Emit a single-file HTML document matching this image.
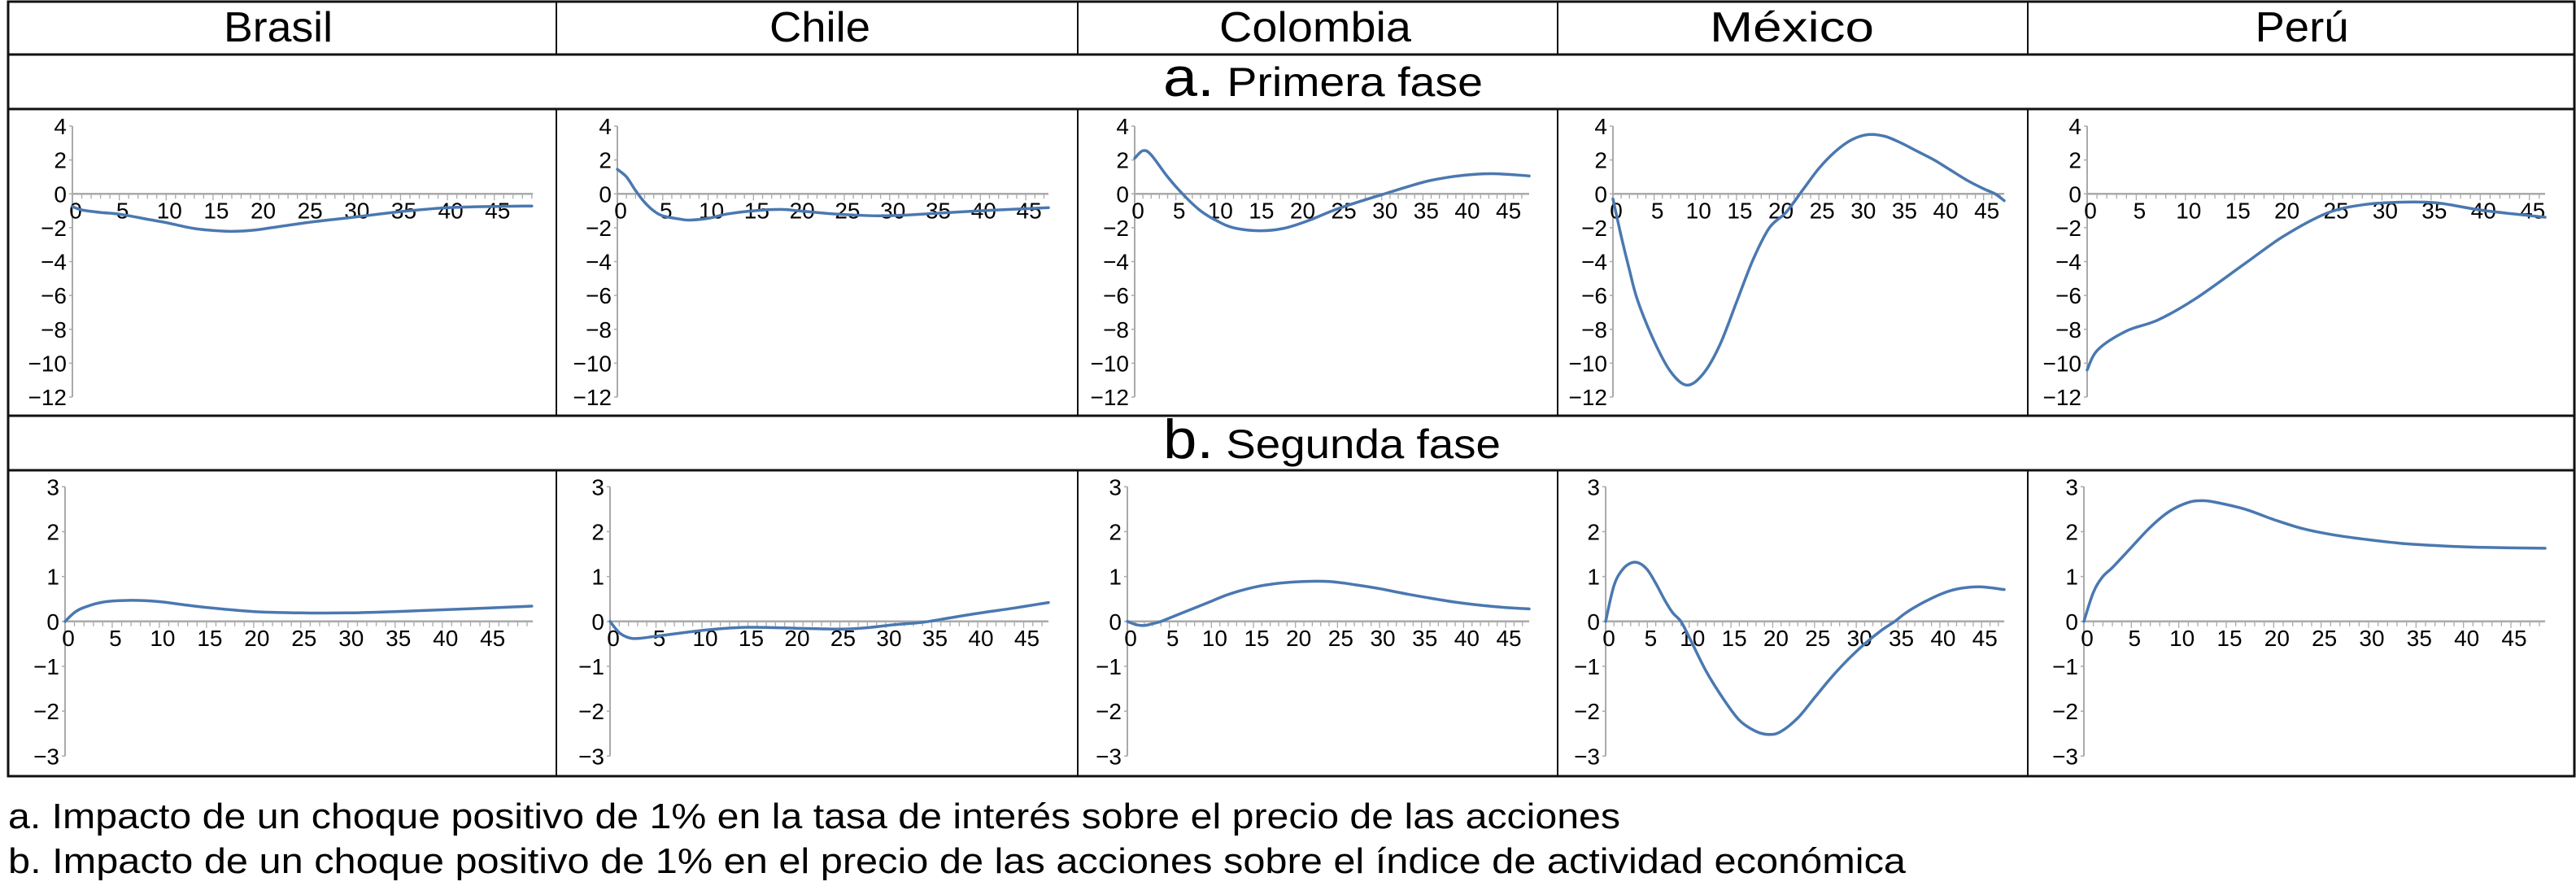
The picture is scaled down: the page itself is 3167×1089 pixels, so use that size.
<!DOCTYPE html>
<html><head><meta charset="utf-8">
<style>
html,body{margin:0;padding:0;background:#fff;}
svg{display:block;font-family:"Liberation Sans",Arial,sans-serif;}
</style></head>
<body>
<svg id="fig" width="3167" height="1089" viewBox="0 0 3167 1089" xmlns="http://www.w3.org/2000/svg">
  <g stroke="#111" fill="none">
    <rect x="10" y="2" width="3155" height="952" stroke-width="3"/>
    <line x1="10" y1="67" x2="3165" y2="67" stroke-width="3"/>
    <line x1="10" y1="134" x2="3165" y2="134" stroke-width="3"/>
    <line x1="10" y1="511" x2="3165" y2="511" stroke-width="3"/>
    <line x1="10" y1="578" x2="3165" y2="578" stroke-width="3"/>
    <g stroke-width="2">
      <line x1="684" y1="2" x2="684" y2="67"/><line x1="1325" y1="2" x2="1325" y2="67"/>
      <line x1="1915" y1="2" x2="1915" y2="67"/><line x1="2493" y1="2" x2="2493" y2="67"/>
      <line x1="684" y1="134" x2="684" y2="511"/><line x1="1325" y1="134" x2="1325" y2="511"/>
      <line x1="1915" y1="134" x2="1915" y2="511"/><line x1="2493" y1="134" x2="2493" y2="511"/>
      <line x1="684" y1="578" x2="684" y2="954"/><line x1="1325" y1="578" x2="1325" y2="954"/>
      <line x1="1915" y1="578" x2="1915" y2="954"/><line x1="2493" y1="578" x2="2493" y2="954"/>
    </g>
  </g>
  <g font-size="52" fill="#000" text-anchor="middle">
    <text x="342" y="51" textLength="134" lengthAdjust="spacingAndGlyphs">Brasil</text>
    <text x="1008" y="51" textLength="124" lengthAdjust="spacingAndGlyphs">Chile</text>
    <text x="1617" y="51" textLength="236" lengthAdjust="spacingAndGlyphs">Colombia</text>
    <text x="2203" y="51" textLength="202" lengthAdjust="spacingAndGlyphs">México</text>
    <text x="2830" y="51" textLength="115" lengthAdjust="spacingAndGlyphs">Perú</text>
  </g>
  <text x="1430" y="118" font-size="50" textLength="393" lengthAdjust="spacingAndGlyphs"><tspan font-size="68">a.</tspan> Primera fase</text>
  <text x="1430" y="563" font-size="50" textLength="415" lengthAdjust="spacingAndGlyphs"><tspan font-size="68">b.</tspan> Segunda fase</text>
  <text x="10" y="1018" font-size="44" textLength="1982" lengthAdjust="spacingAndGlyphs">a. Impacto de un choque positivo de 1% en la tasa de interés sobre el precio de las acciones</text>
  <text x="10" y="1073" font-size="44" textLength="2333" lengthAdjust="spacingAndGlyphs">b. Impacto de un choque positivo de 1% en el precio de las acciones sobre el índice de actividad económica</text>
  <g id="charts"></g>
</svg>
<script>
// ---- Data ----
const yTicksA = [4, 2, 0, -2, -4, -6, -8, -10, -12];
const yTicksB = [3, 2, 1, 0, -1, -2, -3];
const xTickLabels = [0, 5, 10, 15, 20, 25, 30, 35, 40, 45];

const brasilA_x = [0,1,3,5,8,10,13,16,18,20,25,30,35,40,45,49];
const brasilA_y = [-0.75,-0.95,-1.1,-1.2,-1.5,-1.7,-2.05,-2.2,-2.2,-2.1,-1.7,-1.38,-1.05,-0.82,-0.74,-0.72];
const chileA_x = [0,1,2,3,4,5,7,8,10,12,15,18,20,23,26,29,32,36,40,44,47.5];
const chileA_y = [1.45,1.0,0.2,-0.5,-1.0,-1.3,-1.5,-1.55,-1.45,-1.2,-1.0,-0.92,-1.0,-1.15,-1.25,-1.3,-1.25,-1.12,-1.0,-0.9,-0.82];
const colombiaA_x = [0,1,2,4,6,8,10,12,15,18,21,24,27,30,33,36,40,43.5,47.9];
const colombiaA_y = [2.1,2.55,2.3,1.0,-0.1,-1.0,-1.6,-2.0,-2.18,-2.05,-1.6,-1.0,-0.5,-0.05,0.4,0.8,1.1,1.19,1.06];
const mexicoA_x = [0,1,2,3,5,7,9,11,13,15,17,19,21,23,25,27,29,31,33,35,37,39,41,43,45,46.4,47.5];
const mexicoA_y = [-0.3,-2.5,-4.5,-6.3,-8.7,-10.5,-11.3,-10.6,-8.9,-6.4,-3.9,-2.0,-1.1,0.2,1.5,2.5,3.2,3.5,3.4,3.0,2.5,2.0,1.4,0.8,0.3,0,-0.4];
const peruA_x = [0,1.1,4,7.2,11,16.1,20,24.4,28,31.4,35.5,40.3,46.6];
const peruA_y = [-10.4,-9.2,-8.1,-7.45,-6.2,-4.1,-2.5,-1.14,-0.65,-0.5,-0.53,-0.98,-1.38];

const brasilB_x = [0,1,2,4,7,10,13,16,20,25,30,35,40,45,49.5];
const brasilB_y = [0,0.2,0.31,0.43,0.47,0.44,0.36,0.29,0.22,0.19,0.19,0.22,0.26,0.3,0.34];
const chileB_x = [0,1,2,3,5,8,11,15,20,25,28,31,34,37,40,44,47.7];
const chileB_y = [0,-0.25,-0.36,-0.38,-0.33,-0.25,-0.18,-0.13,-0.15,-0.17,-0.14,-0.07,-0.02,0.08,0.18,0.3,0.42];
const colombiaB_x = [0,1,2,3,4,6,8,10,12,15,18,21,24,27,30,33,36,39,42,45,47.8];
const colombiaB_y = [0,-0.07,-0.09,-0.05,0,0.15,0.3,0.45,0.6,0.76,0.85,0.89,0.89,0.82,0.73,0.62,0.52,0.43,0.36,0.31,0.28];
const mexicoB_x = [0,1,2,3,4,5,6,7,8,9,10,12,14,16,18,19.6,21,23,25,27,29,31,33,34.6,36,38,40,42,44.7,47.7];
const mexicoB_y = [0,0.8,1.15,1.3,1.3,1.15,0.85,0.5,0.2,0,-0.35,-1.1,-1.7,-2.2,-2.45,-2.52,-2.45,-2.15,-1.7,-1.25,-0.85,-0.5,-0.2,0,0.2,0.42,0.6,0.72,0.77,0.71];
const peruB_x = [0,1,2,3,5,7,9,11,12.5,14,17,20,23,26,30,34,38,42,48.6];
const peruB_y = [0,0.65,1.0,1.2,1.65,2.1,2.45,2.65,2.69,2.65,2.5,2.27,2.07,1.94,1.82,1.73,1.68,1.65,1.63];

// ---- Layout ----
const rowA = {top:155, bottom:488, ymin:-12, ymax:4, ticks:yTicksA};
const rowB = {top:598.3, bottom:929.3, ymin:-3, ymax:3, ticks:yTicksB};
const panels = [
  {name:'brasil-a', row:rowA, x0:89, x1:655, xmax:49.1, xs:brasilA_x, ys:brasilA_y},
  {name:'chile-a', row:rowA, x0:759, x1:1289, xmax:47.5, xs:chileA_x, ys:chileA_y},
  {name:'colombia-a', row:rowA, x0:1395, x1:1880, xmax:47.9, xs:colombiaA_x, ys:colombiaA_y},
  {name:'mexico-a', row:rowA, x0:1983, x1:2464, xmax:47.5, xs:mexicoA_x, ys:mexicoA_y},
  {name:'peru-a', row:rowA, x0:2566, x1:3129, xmax:46.6, xs:peruA_x, ys:peruA_y},
  {name:'brasil-b', row:rowB, x0:80, x1:655, xmax:49.6, xs:brasilB_x, ys:brasilB_y},
  {name:'chile-b', row:rowB, x0:750, x1:1289, xmax:47.7, xs:chileB_x, ys:chileB_y},
  {name:'colombia-b', row:rowB, x0:1386, x1:1880, xmax:47.8, xs:colombiaB_x, ys:colombiaB_y},
  {name:'mexico-b', row:rowB, x0:1974, x1:2464, xmax:47.7, xs:mexicoB_x, ys:mexicoB_y},
  {name:'peru-b', row:rowB, x0:2562, x1:3129, xmax:48.6, xs:peruB_x, ys:peruB_y}
];

const NS = 'http://www.w3.org/2000/svg';
const root = document.getElementById('charts');
function mk(tag, attrs, parent){
  const e = document.createElementNS(NS, tag);
  for (const k in attrs) e.setAttribute(k, attrs[k]);
  parent.appendChild(e);
  return e;
}
function smoothPath(pts){
  let d = 'M' + pts[0][0].toFixed(1) + ',' + pts[0][1].toFixed(1);
  for (let i = 0; i < pts.length - 1; i++){
    const p0 = pts[i-1] || pts[i], p1 = pts[i], p2 = pts[i+1], p3 = pts[i+2] || p2;
    const c1x = p1[0] + (p2[0]-p0[0])/6, c1y = p1[1] + (p2[1]-p0[1])/6;
    const c2x = p2[0] - (p3[0]-p1[0])/6, c2y = p2[1] - (p3[1]-p1[1])/6;
    d += ' C' + c1x.toFixed(1) + ',' + c1y.toFixed(1) + ' ' + c2x.toFixed(1) + ',' + c2y.toFixed(1) + ' ' + p2[0].toFixed(1) + ',' + p2[1].toFixed(1);
  }
  return d;
}

panels.forEach(p => {
  const r = p.row;
  const xs = v => p.x0 + (p.x1 - p.x0) * v / p.xmax;
  const ys = v => r.bottom - (r.bottom - r.top) * (v - r.ymin) / (r.ymax - r.ymin);
  const g = mk('g', {}, root);
  
  
  const ya = mk('line', {x1:p.x0, y1:r.top, x2:p.x0, y2:r.bottom, stroke:'#aaa', 'stroke-width':2}, g);
  
  
  r.ticks.forEach(t => {
    const y = ys(t);
    const tk = mk('line', {x1:p.x0-4, y1:y, x2:p.x0, y2:y, stroke:'#aaa', 'stroke-width':1.5}, g);
    
    
    const lb = mk('text', {x:p.x0-7, y:y+10, 'font-size':28, 'text-anchor':'end', fill:'#000'}, g);
    
    
    lb.textContent = t < 0 ? '\u2212' + Math.abs(t) : String(t);
  });
  const y0 = ys(0);
  const xa = mk('line', {x1:p.x0, y1:y0, x2:p.x1, y2:y0, stroke:'#aaa', 'stroke-width':2.5}, g);
  
  
  for (let i = 0; i <= Math.floor(p.xmax); i++){
    const x = xs(i);
    const tk = mk('line', {x1:x, y1:y0, x2:x, y2:y0 + (i % 5 === 0 ? 8 : 6), stroke:'#aaa', 'stroke-width':1.3}, g);
    
    
  }
  xTickLabels.forEach(v => {
    const lb = mk('text', {x:xs(v)+4, y:y0+30, 'font-size':28, 'text-anchor':'middle', fill:'#000'}, g);
    
    
    lb.textContent = String(v);
  });
  const pts = p.xs.map((v, i) => [xs(v), ys(p.ys[i])]);
  const ln = mk('path', {d:smoothPath(pts), fill:'none', stroke:'#4a78b0', 'stroke-width':3.5, 'stroke-linejoin':'round', 'stroke-linecap':'round'}, g);
  
  
});
</script>
</body></html>
